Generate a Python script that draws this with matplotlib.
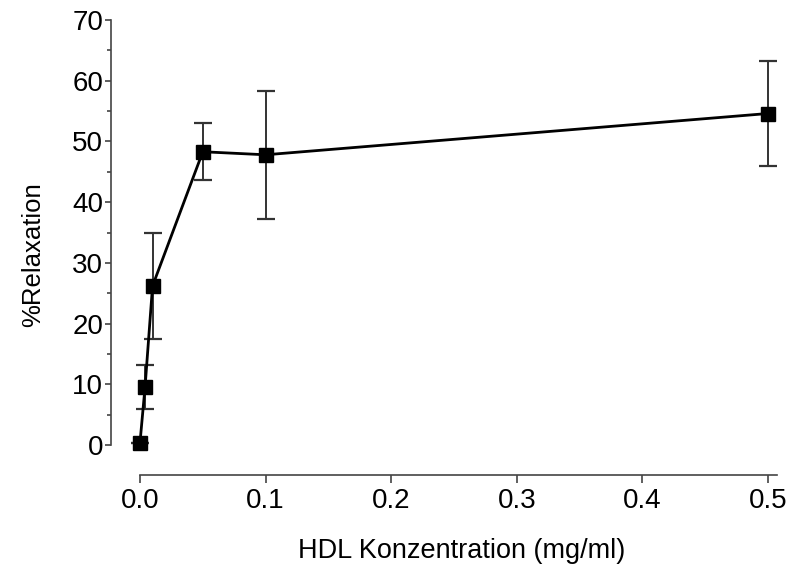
import matplotlib
matplotlib.use("Agg")
import matplotlib.pyplot as plt
from matplotlib.ticker import MultipleLocator

plt.rcParams['font.family'] = ['Liberation Sans', 'DejaVu Sans']

conc = [0.0, 0.004, 0.01, 0.05, 0.1, 0.5]
relax = [0.4, 9.5, 26.2, 48.3, 47.8, 54.6]
err = [0.0, 3.6, 8.8, 4.7, 10.5, 8.6]
xticks = [0.0, 0.1, 0.2, 0.3, 0.4, 0.5]
xticklabels = ["0.0", "0.1", "0.2", "0.3", "0.4", "0.5"]
yticks = [0, 10, 20, 30, 40, 50, 60, 70]

W, H = 795, 565
fig = plt.figure(figsize=(W / 100, H / 100), dpi=100)
left_px, right_px, top_px, bottom_px = 111, 787, 18, 475
ax = fig.add_axes([left_px / W, 1 - bottom_px / H, (right_px - left_px) / W, (bottom_px - top_px) / H])

ppx = (768 - 140) / 0.5
ax.set_xlim(-(140 - left_px) / ppx, (right_px - 140) / ppx)
ppy = (445 - 20) / 70
ax.set_ylim(-(bottom_px - 445) / ppy, (445 - top_px) / ppy)

ax.errorbar(conc, relax, yerr=err, fmt='none', ecolor='#333333', elinewidth=1.4,
            capsize=9 * 0.72, capthick=1.6, zorder=2)
ax.plot(conc, relax, color='black', lw=2.0, marker='s', markersize=9.5,
        markerfacecolor='black', markeredgecolor='black', zorder=3)

for s in ['top', 'right']:
    ax.spines[s].set_visible(False)
ax.spines['left'].set_bounds(0, 70)
ax.spines['bottom'].set_bounds(0, 0.507)
for s in ['left', 'bottom']:
    ax.spines[s].set_color('#444444')
    ax.spines[s].set_linewidth(1.2)

ax.set_xticks(xticks)
ax.set_xticklabels(xticklabels)
ax.set_yticks(yticks)
ax.yaxis.set_minor_locator(MultipleLocator(5))
ax.tick_params(axis='y', which='major', length=4.3, width=1.2, color='#444444', pad=1.4, labelsize=20)
ax.tick_params(axis='y', which='minor', length=3, width=1.2, color='#444444')
ax.tick_params(axis='x', which='major', length=5.8, width=1.2, color='#444444', pad=3.6, labelsize=20)

ax.set_xlabel("HDL Konzentration (mg/ml)", fontsize=19.5, va='baseline')
ax.set_ylabel("%Relaxation", fontsize=18.5)
ax.xaxis.set_label_coords((462 - left_px) / (right_px - left_px), -(558 - bottom_px) / (bottom_px - top_px))
ax.yaxis.set_label_coords(-(left_px - 45) / (right_px - left_px), (bottom_px - 255) / (bottom_px - top_px))

fig.savefig("out.png", dpi=100)
